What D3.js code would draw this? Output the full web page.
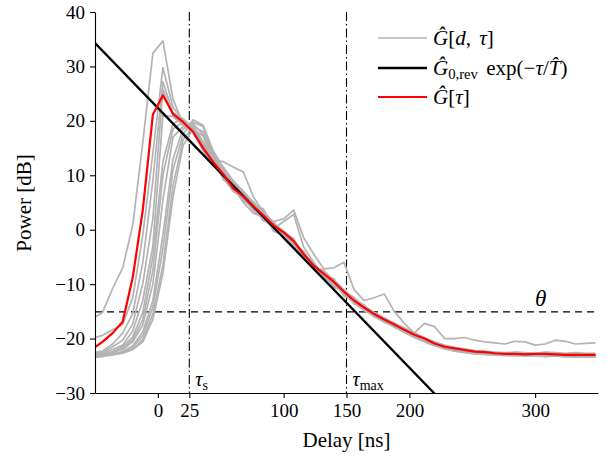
<!DOCTYPE html>
<html>
<head>
<meta charset="utf-8">
<script src="https://cdn.jsdelivr.net/npm/d3@7"></script>
<style>
  body { margin: 0; background: #fff; }
  svg { display: block; font-family: "Liberation Serif", "DejaVu Serif", serif; }
</style>
</head>
<body>
<svg id="chart" width="606" height="459"></svg>
<script>
// delay grid [ns]
const delays = [-52, -44, -36, -28, -20, -12, -4, 4, 12, 20, 28, 36, 44,
  52, 60, 68, 76, 84, 92, 100, 108, 116, 124, 132, 140, 148, 156, 164, 172, 180, 188, 196,
  204, 212, 220, 228, 236, 244, 252, 260, 268, 276, 284, 292, 300, 308, 316, 324, 332, 340, 348];

// averaged PDP, G[tau]
const meanPower = [-21.9, -20.6, -19.0, -16.9, -8.8, 3.6, 21.1, 24.7, 21.3, 19.8, 18.0, 15.0, 12.4,
  10.2, 7.6, 6.1, 4.3, 2.6, 0.8, -0.5, -2.1, -4.5, -6.6, -8.1, -9.6, -11.4, -13.0, -14.3, -15.5, -16.5, -17.4, -18.4,
  -19.3, -20.0, -20.9, -21.5, -21.8, -22.1, -22.4, -22.5, -22.7, -22.8, -22.8, -22.9, -22.8, -22.8, -22.9, -23.0, -23.0, -23.0, -23.0];

// single PDPs, G[d, tau]
const pdpA = [-16.3, -15.2, -10.8, -7.0, 0.8, 16.0, 32.4, 34.7, 24.0, 19.5, 18.5, 16.0, 13.5,
  11.0, 8.5, 7.0, 5.0, 3.0, 1.5, 2.0, 3.6, -1.5, -4.5, -7.2, -7.0, -6.0, -11.0, -13.0, -12.5, -11.8, -15.0, -17.2,
  -19.0, -17.2, -17.8, -20.0, -20.0, -19.8, -20.3, -20.6, -20.8, -21.0, -20.5, -20.6, -21.2, -21.0, -20.3, -20.5, -21.0, -20.9, -20.8];
const pdpB = [-20.0, -19.4, -18.4, -17.4, -12.5, -1.0, 14.0, 29.8, 22.5, 20.0, 18.0, 15.8, 13.0,
  10.5, 8.0, 5.5, 4.0, 2.0, 0.5, -1.0, -2.8, -5.0, -6.2, -8.5, -10.0, -11.8, -13.5, -14.8, -15.8, -17.0, -17.8, -18.9,
  -19.8, -20.6, -21.3, -21.9, -22.3, -22.6, -22.8, -22.9, -23.0, -23.1, -23.0, -23.2, -23.1, -23.0, -23.2, -23.3, -23.2, -23.3, -23.3];
const pdpC = [-22.6, -22.3, -21.0, -19.0, -15.4, -6.0, 9.0, 27.2, 21.5, 20.3, 18.6, 15.2, 12.8,
  12.5, 11.5, 10.6, 6.0, 3.2, 1.0, -0.8, -2.5, -4.0, -6.8, -7.6, -9.2, -11.0, -12.6, -14.0, -15.2, -16.2, -17.2, -18.0,
  -19.0, -19.8, -20.6, -21.2, -21.6, -21.9, -22.2, -22.3, -22.5, -22.6, -22.5, -22.6, -22.7, -22.5, -22.6, -22.7, -22.6, -22.7, -22.7];
const pdpD = [-22.8, -22.5, -21.5, -20.3, -17.3, -9.9, 2.0, 25.8, 21.0, 19.5, 18.2, 15.0, 12.2,
  9.5, 7.0, 5.8, 3.5, 2.0, 0.2, 1.5, 2.8, -3.2, -6.0, -8.8, -10.2, -11.0, -13.4, -14.6, -16.0, -16.8, -17.9, -18.8,
  -19.6, -20.4, -21.2, -21.8, -22.1, -22.4, -22.6, -22.8, -22.9, -23.0, -23.1, -23.0, -23.1, -23.2, -23.1, -23.2, -23.3, -23.2, -23.3];
const pdpE = [-23.0, -22.7, -22.0, -21.2, -18.6, -13.0, -3.0, 21.0, 20.8, 19.2, 17.8, 14.5, 12.0,
  10.0, 8.5, 6.5, 4.8, 3.5, 1.2, -0.2, -1.8, -4.8, -7.0, -8.3, -9.4, -11.6, -12.8, -14.5, -15.6, -16.6, -17.6, -18.5,
  -19.5, -20.2, -21.0, -21.6, -22.0, -22.3, -22.5, -22.7, -22.8, -22.8, -22.9, -23.0, -22.9, -23.0, -23.1, -23.1, -23.0, -23.1, -23.1];
const pdpF = [-23.2, -23.0, -22.4, -21.5, -19.7, -15.2, -5.0, 12.5, 19.5, 20.4, 18.5, 15.8, 12.6,
  11.0, 8.8, 6.0, 5.2, 2.8, 0.4, -0.8, -2.4, -5.4, -6.5, -7.8, -9.8, -11.2, -13.2, -14.2, -15.4, -16.4, -17.3, -18.2,
  -19.0, -19.9, -20.8, -21.4, -21.8, -22.0, -22.3, -22.4, -22.6, -22.7, -22.6, -22.7, -22.8, -22.7, -22.8, -22.9, -22.8, -22.9, -22.9];
const pdpG = [-23.3, -23.1, -22.6, -21.8, -20.2, -16.5, -7.5, 10.0, 18.5, 19.8, 19.0, 16.2, 13.2,
  9.8, 7.2, 6.8, 3.8, 1.8, 1.5, -1.2, -2.0, -4.2, -7.2, -8.6, -9.0, -12.0, -13.0, -13.8, -15.9, -16.9, -17.5, -18.6,
  -19.4, -20.3, -21.1, -21.7, -22.0, -22.3, -22.6, -22.6, -22.8, -22.9, -23.0, -22.9, -23.0, -23.1, -23.0, -23.1, -23.2, -23.1, -23.2];
const pdpH = [-23.0, -22.9, -22.5, -22.0, -20.6, -17.5, -10.0, 5.5, 17.0, 19.0, 19.8, 18.9, 14.0,
  10.8, 8.2, 5.6, 4.6, 3.8, 0.0, -0.3, -2.6, -5.0, -6.4, -8.0, -10.3, -11.5, -12.4, -14.9, -15.5, -16.3, -17.7, -18.7,
  -19.2, -20.0, -20.7, -21.3, -21.7, -22.1, -22.4, -22.5, -22.6, -22.7, -22.8, -22.7, -22.8, -22.9, -22.8, -22.9, -23.0, -22.9, -23.0];
const pdpI = [-23.4, -23.2, -22.9, -22.4, -21.3, -18.8, -13.0, -1.0, 13.0, 18.5, 19.5, 17.5, 13.5,
  9.2, 7.8, 5.0, 3.0, 2.4, 1.0, -1.5, -3.0, -4.6, -6.0, -8.9, -9.8, -11.4, -13.6, -14.4, -15.8, -16.6, -17.4, -18.3,
  -19.7, -20.5, -21.2, -21.8, -22.2, -22.5, -22.7, -22.9, -23.0, -23.1, -23.2, -23.1, -23.2, -23.3, -23.2, -23.3, -23.4, -23.3, -23.4];
const pdpJ = [-23.1, -23.0, -22.8, -22.5, -21.6, -19.5, -14.2, -3.5, 11.0, 17.5, 20.2, 19.2, 14.5,
  11.5, 9.0, 7.0, 5.0, 2.2, 0.8, -0.6, -1.6, -5.2, -6.8, -7.5, -9.5, -12.2, -12.9, -14.2, -15.3, -16.5, -17.1, -18.4,
  -19.3, -20.1, -20.9, -21.5, -21.9, -22.2, -22.4, -22.6, -22.7, -22.8, -22.7, -22.8, -22.9, -22.8, -22.9, -23.0, -22.9, -23.0, -23.0];
const pdpK = [-23.5, -23.3, -23.0, -22.7, -22.0, -20.2, -15.5, -6.5, 8.0, 16.5, 19.0, 18.0, 13.8,
  10.2, 7.5, 6.2, 4.0, 3.0, -0.3, -0.9, -2.2, -4.4, -6.6, -8.2, -10.6, -11.2, -13.1, -14.7, -15.7, -16.7, -17.8, -18.6,
  -19.5, -20.2, -21.0, -21.6, -22.0, -22.3, -22.5, -22.7, -22.9, -23.0, -23.0, -23.1, -23.0, -23.1, -23.2, -23.1, -23.2, -23.3, -23.2];
const pdpL = [-23.2, -23.1, -22.9, -22.6, -22.0, -20.6, -16.5, -8.0, 6.0, 15.5, 18.5, 17.2, 13.0,
  9.6, 8.4, 5.2, 4.4, 1.6, 1.2, -0.4, -2.9, -4.8, -6.2, -8.4, -9.6, -11.8, -12.7, -14.1, -15.2, -16.2, -17.5, -18.4,
  -19.2, -20.1, -20.9, -21.5, -21.9, -22.2, -22.4, -22.5, -22.6, -22.8, -22.7, -22.8, -22.9, -23.0, -22.9, -23.0, -23.1, -23.0, -23.1];
const singlePdps = [pdpA, pdpB, pdpC, pdpD, pdpE, pdpF, pdpG, pdpH, pdpI, pdpJ, pdpK, pdpL];

// exponential fit G0,rev exp(-tau/T), straight in dB
const fitDelay = [-50, 230];
const fitPower = [34.3, -32.5];

const thresholdPower = -15.1;   // theta
const tauS = 25;
const tauMax = 150;

const xTicks = [0, 25, 100, 150, 200, 300];
const yTicks = [-30, -20, -10, 0, 10, 20, 30, 40];

const serif = "Liberation Serif, DejaVu Serif, serif";

const svg = d3.select("#chart");
const x = d3.scaleLinear().domain([-50, 350]).range([95, 598]);
const y = d3.scaleLinear().domain([-30, 40]).range([393, 12]);

svg.append("clipPath").attr("id", "plot-clip")
  .append("rect")
  .attr("x", x(-50)).attr("y", y(40))
  .attr("width", x(350) - x(-50)).attr("height", y(-30) - y(40));

// reference lines
svg.append("line")
  .attr("x1", x(-50)).attr("x2", x(350))
  .attr("y1", y(thresholdPower)).attr("y2", y(thresholdPower))
  .attr("stroke", "#000").attr("stroke-width", 1.1)
  .attr("stroke-dasharray", "7,5");

[tauS, tauMax].forEach(t => {
  svg.append("line")
    .attr("x1", x(t)).attr("x2", x(t))
    .attr("y1", y(40)).attr("y2", y(-30))
    .attr("stroke", "#000").attr("stroke-width", 1.1)
    .attr("stroke-dasharray", "9,3,1.5,3");
});

const plot = svg.append("g").attr("clip-path", "url(#plot-clip)");

const line = d3.line()
  .x(d => x(d[0]))
  .y(d => y(d[1]));

singlePdps.forEach(values => {
  plot.append("path")
    .datum(delays.map((t, i) => [t, values[i]]).filter(d => d[1] != null))
    .attr("d", line)
    .attr("fill", "none")
    .attr("stroke", "#b3b3b3")
    .attr("stroke-width", 1.7)
    .attr("stroke-linejoin", "round");
});

plot.append("path")
  .datum(fitDelay.map((t, i) => [t, fitPower[i]]))
  .attr("d", line)
  .attr("fill", "none")
  .attr("stroke", "#000")
  .attr("stroke-width", 2.3);

plot.append("path")
  .datum(delays.map((t, i) => [t, meanPower[i]]))
  .attr("d", line)
  .attr("fill", "none")
  .attr("stroke", "#ff0000")
  .attr("stroke-width", 2.2)
  .attr("stroke-linejoin", "round");

// axes
const xAxis = svg.append("g")
  .attr("transform", `translate(0,${y(-30)})`)
  .call(d3.axisBottom(x).tickValues(xTicks).tickSize(5).tickSizeOuter(0).tickPadding(6));
const yAxis = svg.append("g")
  .attr("transform", `translate(${x(-50)},0)`)
  .call(d3.axisLeft(y).tickValues(yTicks).tickSize(5).tickSizeOuter(0).tickPadding(5));

[xAxis, yAxis].forEach(g => {
  g.attr("font-family", serif);
  g.select(".domain").attr("stroke", "#000").attr("stroke-width", 1.1);
  g.selectAll(".tick line").attr("stroke", "#000").attr("stroke-width", 1.1);
  g.selectAll(".tick text")
    .attr("font-family", serif)
    .attr("font-size", 19)
    .attr("fill", "#000");
});

svg.append("text")
  .attr("x", (x(-50) + x(350)) / 2).attr("y", 447)
  .attr("text-anchor", "middle")
  .attr("font-family", serif)
  .attr("font-size", 21)
  .text("Delay [ns]");

svg.append("text")
  .attr("transform", "translate(31,203) rotate(-90)")
  .attr("text-anchor", "middle")
  .attr("font-family", serif)
  .attr("font-size", 21)
  .text("Power [dB]");

// math-like labels
function mathText(parent, px, py, size, parts) {
  const t = parent.append("text").attr("x", px).attr("y", py)
    .attr("font-family", serif).attr("font-size", size);
  parts.forEach(p => {
    const s = t.append("tspan").text(p.t);
    if (p.i) s.attr("font-style", "italic");
    if (p.sub) s.attr("font-size", size * 0.7).attr("baseline-shift", "-25%");
  });
  return t;
}

mathText(svg, x(tauS) + 6, 386, 20, [{ t: "τ", i: true }, { t: "s", sub: true }]);
mathText(svg, x(tauMax) + 6, 386, 20, [{ t: "τ", i: true }, { t: "max", sub: true }]);
mathText(svg, 535, 306, 23, [{ t: "θ", i: true }]);

// legend
const legendItems = [
  { color: "#b3b3b3", width: 1.7, parts: [{ t: "Ĝ", i: true }, { t: "[" }, { t: "d", i: true }, { t: ", " }, { t: "τ", i: true }, { t: "]" }] },
  { color: "#000", width: 2.3, parts: [{ t: "Ĝ", i: true }, { t: "0,rev", sub: true }, { t: " exp(−" }, { t: "τ", i: true }, { t: "/" }, { t: "T̂", i: true }, { t: ")" }] },
  { color: "#ff0000", width: 2.2, parts: [{ t: "Ĝ", i: true }, { t: "[" }, { t: "τ", i: true }, { t: "]" }] }
];
const legendY = [38, 68, 97];

legendItems.forEach((item, i) => {
  svg.append("line")
    .attr("x1", 378).attr("x2", 427)
    .attr("y1", legendY[i]).attr("y2", legendY[i])
    .attr("stroke", item.color).attr("stroke-width", item.width);
  mathText(svg, 433, legendY[i] + 7, 21, item.parts)
    .attr("word-spacing", 3);
});
</script>
</body>
</html>
